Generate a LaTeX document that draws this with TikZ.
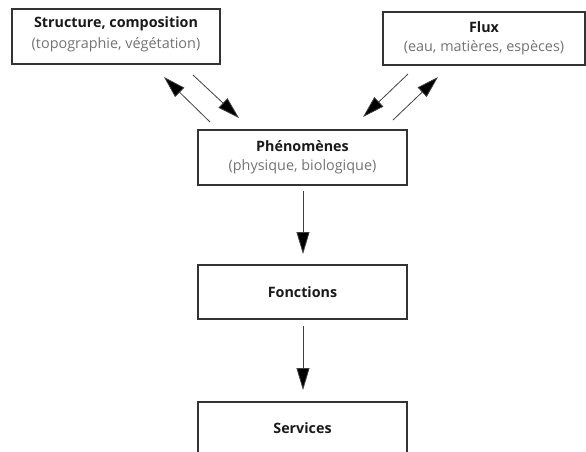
\documentclass[tikz,border=0pt]{standalone}
\usepackage{fontspec}
\setmainfont{Open Sans}
\usetikzlibrary{arrows.meta}
\begin{document}
\begin{tikzpicture}[x=1pt,y=-1pt,
  box/.style={draw=black!80,line width=1.3pt,inner sep=0pt},
  arr/.style={draw=black!75,line width=0.8pt,-{Triangle[length=22pt,width=13pt,fill=black]}},
  ttl/.style={font=\bfseries\fontsize{14.3}{16}\selectfont,text=black!90},
  sub/.style={font=\fontsize{14.4}{16}\selectfont,text=black!55}]
\useasboundingbox (0,0) rectangle (586,451);
% boxes
\draw[box] (12,9) rectangle (220,64);
\draw[box] (383,12) rectangle (585,65);
\draw[box] (198,130) rectangle (407,185);
\draw[box] (198,265) rectangle (407,319);
\draw[box] (198,460) -- (198,402) -- (407,402) -- (407,460);
% texts
\node[ttl] (t1) at (116,24) {Structure, composition};
\node[sub] (s1) at (116,45) {(topographie, végétation)};
\node[ttl] (t2) at (484,27) {Flux};
\node[sub] (s2) at (484,48) {(eau, matières, espèces)};
\node[ttl] (t3) at (302.5,146) {Phénomènes};
\node[sub] (s3) at (302.5,167) {(physique, biologique)};
\node[ttl] (t4) at (302.5,292) {Fonctions};
\node[ttl] (t5) at (302.5,428) {Services};
% arrows
\coordinate (a1) at (210,122); \coordinate (a2) at (164,77);
\coordinate (b1) at (193,75); \coordinate (b2) at (239,118);
\coordinate (c1) at (408,74); \coordinate (c2) at (363,117);
\coordinate (d1) at (393,120); \coordinate (d2) at (438,77);
\coordinate (e1) at (303,191); \coordinate (e2) at (303,254);
\coordinate (f1) at (303,326); \coordinate (f2) at (303,390);
\draw[arr] (a1) -- (a2);
\draw[arr] (b1) -- (b2);
\draw[arr] (c1) -- (c2);
\draw[arr] (d1) -- (d2);
\draw[arr] (e1) -- (e2);
\draw[arr] (f1) -- (f2);
\end{tikzpicture}
\end{document}
